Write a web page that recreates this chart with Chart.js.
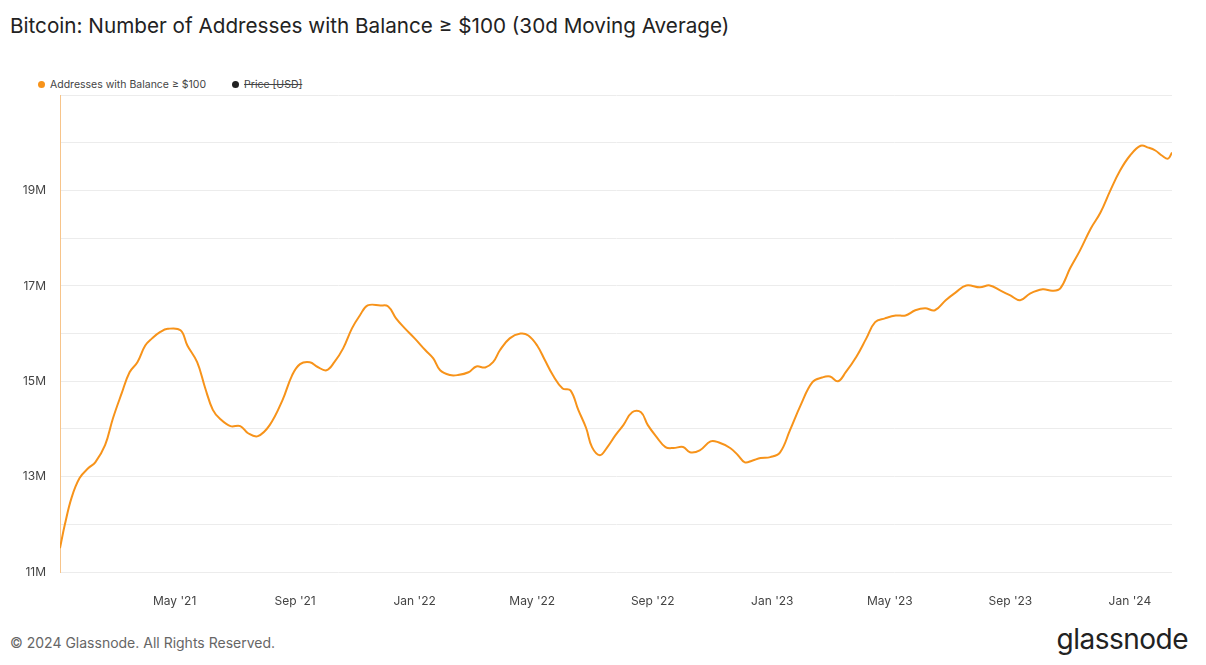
<!DOCTYPE html>
<html><head><meta charset="utf-8">
<script src="https://cdn.jsdelivr.net/npm/chart.js@4"></script>
<style>
body{margin:0;background:#fff;font-family:Inter,"Noto Sans",sans-serif;width:1206px;height:665px;position:relative;overflow:hidden}
#title{position:absolute;left:10px;top:13px;font-size:20.7px;color:#222}
#legend{position:absolute;left:38px;top:78px;font-size:10.5px;color:#444;display:flex;gap:26px}
#legend span.d{display:inline-block;width:7px;height:7px;border-radius:50%;margin-right:5px;vertical-align:0px}
#foot{position:absolute;left:10px;top:634px;font-size:14px;color:#666}
#logo{position:absolute;right:18px;top:622px;font-size:28px;color:#222;letter-spacing:-0.5px}
#wrap{position:absolute;left:0;top:74px;width:1180px;height:546px}
</style></head><body>
<div id="title">Bitcoin: Number of Addresses with Balance ≥ $100 (30d Moving Average)</div>
<div id="legend"><div><span class="d" style="background:#f7931a"></span>Addresses with Balance ≥ $100</div><div><span class="d" style="background:#222"></span><s>Price [USD]</s></div></div>
<div id="wrap"><canvas id="c"></canvas></div>
<div id="foot">© 2024 Glassnode. All Rights Reserved.</div>
<div id="logo">glassnode</div>
<script>
const days=[3,8,15,23,32,39,49,57,66,74,82,90,97,105,113,126,133,143,151,159,166,177,187,195,205,217,230,240,248,258,266,275,283,292,301,309,317,330,338,346,355,365,376,384,391,401,409,420,428,437,445,452,462,473,481,490,498,506,516,524,532,540,546,554,561,570,578,587,596,603,612,621,629,639,646,656,667,675,687,695,702,710,718,728,738,748,759,771,781,789,797,805,816,826,835,845,856,866,876,886,896,907,917,928,942,952,963,973,983,993,1006,1016,1024,1034,1044,1055,1065,1075,1085,1095,1106,1114,1121,1128,1134,1138];
const addrM=[11.5,12.0,12.57,12.97,13.18,13.3,13.66,14.22,14.75,15.19,15.4,15.75,15.9,16.03,16.1,16.07,15.75,15.4,14.87,14.4,14.22,14.06,14.06,13.91,13.85,14.08,14.6,15.13,15.36,15.4,15.3,15.23,15.4,15.69,16.11,16.38,16.59,16.59,16.57,16.32,16.11,15.9,15.65,15.48,15.23,15.13,15.13,15.19,15.31,15.29,15.4,15.65,15.9,16.0,15.96,15.75,15.44,15.13,14.85,14.81,14.4,14.02,13.62,13.45,13.6,13.87,14.08,14.35,14.35,14.08,13.83,13.62,13.6,13.62,13.51,13.55,13.74,13.72,13.6,13.45,13.3,13.34,13.39,13.41,13.51,13.97,14.5,14.98,15.08,15.1,15.0,15.19,15.52,15.9,16.24,16.32,16.38,16.38,16.49,16.53,16.49,16.7,16.86,17.01,16.97,17.01,16.9,16.8,16.7,16.84,16.93,16.9,16.95,17.37,17.74,18.2,18.54,19.0,19.42,19.73,19.94,19.9,19.84,19.73,19.67,19.8];
const tickDays=[120,243,365,485,608,730,850,973,1095];
const tickLabels=["May '21","Sep '21","Jan '22","May '22","Sep '22","Jan '23","May '23","Sep '23","Jan '24"];
const pts=days.map((d,i)=>({x:d,y:addrM[i]}));
new Chart(document.getElementById('c'),{type:'line',
data:{datasets:[{data:pts,borderColor:'#f7931a',borderWidth:2,pointRadius:0,tension:0.4,fill:false}]},
options:{responsive:true,maintainAspectRatio:false,animation:false,
layout:{padding:{top:5,right:8,left:0,bottom:0}},
plugins:{legend:{display:false},tooltip:{enabled:false}},
scales:{
x:{type:'linear',min:3,max:1138,
afterBuildTicks:s=>{s.ticks=tickDays.map(v=>({value:v}));},
afterFit:s=>{s.height=48;},
grid:{display:false},border:{display:false},
ticks:{autoSkip:false,maxRotation:0,color:'#444',font:{size:12,family:'Inter'},padding:14,
callback:(v)=>{const i=tickDays.indexOf(v);return i>=0?tickLabels[i]:'';}}},
y:{min:11,max:21,
afterFit:s=>{s.width=60;},
afterBuildTicks:s=>{const t=[];for(let v=11;v<=21;v++)t.push({value:v});s.ticks=t;},
grid:{color:'#ececec',drawTicks:false},border:{display:true,color:'#f7c48a',width:1},
ticks:{color:'#444',font:{size:12,family:'Inter'},padding:14,
callback:v=>(v%2===1&&v<21)?v+'M':''}}
}}});
</script></body></html>
